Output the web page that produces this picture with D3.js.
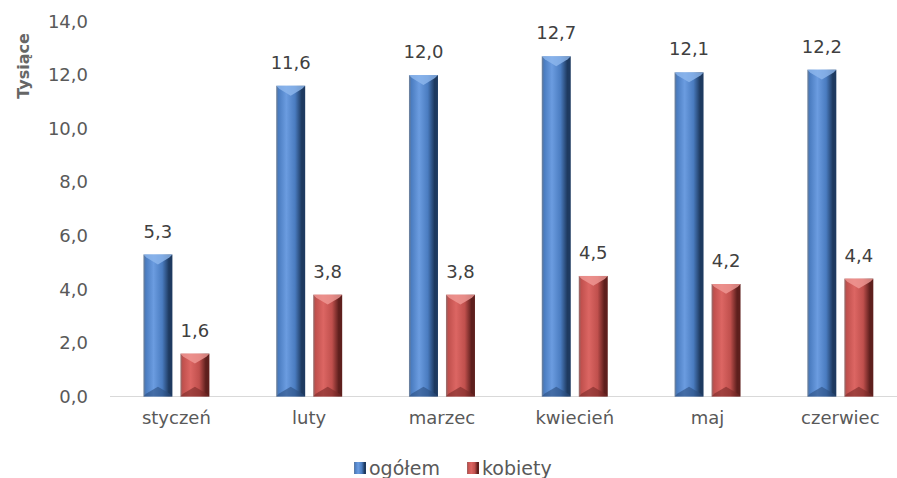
<!DOCTYPE html>
<html><head><meta charset="utf-8">
<script src="https://cdn.jsdelivr.net/npm/d3@7"></script>
<style>
html,body{margin:0;padding:0;background:#fff;}
svg{display:block;font-family:"DejaVu Sans",sans-serif;}
</style></head>
<body>
<svg id="c" width="897" height="478"></svg>
<script>
const categories = ["styczeń","luty","marzec","kwiecień","maj","czerwiec"];
const seriesNames = ["ogółem","kobiety"];
const ogolem = [5.3, 11.6, 12.0, 12.7, 12.1, 12.2];
const kobiety = [1.6, 3.8, 3.8, 4.5, 4.2, 4.4];
const yTicks = [0,2,4,6,8,10,12,14];
const yTitle = "Tysiące";

const seriesValues = [ogolem, kobiety];
const colors = {
  "ogółem": {base:"#4a7cc0", light:"#6b9ce0", dark:"#1e3a60", top:"#8fb8ee", bottom:"#2b4f80"},
  "kobiety": {base:"#c0504d", light:"#dc6663", dark:"#5e1f1d", top:"#f09a96", bottom:"#7a2a28"}
};

const svg = d3.select("#c");
const fmt = v => d3.format(".1f")(v).replace(".", ",");

const x0 = d3.scaleBand().domain(categories).range([110, 906.7]).paddingInner(0).paddingOuter(0);
const x1 = d3.scaleBand().domain(seriesNames).range([33.4, 99.4]).paddingInner(8/37).paddingOuter(0);
const y = d3.scaleLinear().domain([0,14]).range([396.5, 21.5]);

// gradients
const defs = svg.append("defs");
seriesNames.forEach((s,i) => {
  const c = colors[s];
  const g = defs.append("linearGradient").attr("id","g"+i).attr("x1","0").attr("x2","1").attr("y1","0").attr("y2","0");
  [[0,c.dark,0.6],[0.08,c.base,1],[0.35,c.light,1],[0.65,c.base,1],[0.88,c.dark,1],[1,c.dark,1]].forEach(st=>{
    g.append("stop").attr("offset",st[0]).attr("stop-color",st[1]).attr("stop-opacity",st[2]);
  });
});

// axis baseline
svg.append("line").attr("x1",110).attr("x2",897).attr("y1",y(0)).attr("y2",y(0))
  .attr("stroke","#d9d9d9").attr("stroke-width",1.2);

// y axis labels
const yAxis = d3.axisLeft(y).tickValues(yTicks).tickFormat(fmt).tickSize(0).tickPadding(0);
const ya = svg.append("g").attr("transform","translate(88,0)").call(yAxis);
ya.select(".domain").remove();
ya.selectAll("text").attr("fill","#595959").attr("font-size",18).attr("font-family","DejaVu Sans");

// y title
svg.append("text").attr("transform","translate(29,66) rotate(-90)").attr("text-anchor","middle")
  .attr("fill","#666666").attr("font-size",16).attr("font-weight","bold").text(yTitle);

// x axis labels
const xAxis = d3.axisBottom(x0).tickSize(0).tickPadding(0);
const xa = svg.append("g").attr("transform","translate(0,"+(y(0)+18)+")").call(xAxis);
xa.select(".domain").remove();
xa.selectAll("text").attr("fill","#595959").attr("font-size",18).attr("font-family","DejaVu Sans").attr("dy","0.5em");

// bars
const groups = svg.append("g").selectAll("g").data(categories).join("g")
  .attr("transform", d => `translate(${x0(d)},0)`);

groups.each(function(cat, ci){
  const g = d3.select(this);
  seriesNames.forEach((s, si) => {
    const v = seriesValues[si][ci];
    const bx = x1(s), bw = x1.bandwidth();
    const top = y(v), base = y(0);
    const c = colors[s];
    g.append("rect").attr("x",bx).attr("y",top).attr("width",bw).attr("height",base-top)
      .attr("fill",`url(#g${si})`);
    const tb = bw*0.34;
    g.append("path").attr("d",`M${bx},${top}L${bx+bw},${top}L${bx+bw-3},${top+3}L${bx+bw/2},${top+tb}L${bx+3},${top+3}Z`)
      .attr("fill",c.top).attr("opacity",0.8);
    g.append("path").attr("d",`M${bx},${base}L${bx+bw},${base}L${bx+bw-3},${base-3}L${bx+bw/2},${base-tb}L${bx+3},${base-3}Z`)
      .attr("fill",c.bottom).attr("opacity",0.6);
    g.append("text").attr("x",bx+bw/2).attr("y",top-17).attr("text-anchor","middle")
      .attr("fill","#404040").attr("font-size",18).text(fmt(v));
  });
});

// legend
const legend = svg.append("g");
const legItems = [{s:"ogółem",x:354},{s:"kobiety",x:467}];
legItems.forEach((it,i)=>{
  legend.append("rect").attr("x",it.x).attr("y",462).attr("width",12).attr("height",12).attr("fill",`url(#g${i})`);
  legend.append("text").attr("x",it.x+15).attr("y",468).attr("dy","0.35em").attr("fill","#595959")
    .attr("font-size",19).text(it.s);
});
</script>
</body></html>
